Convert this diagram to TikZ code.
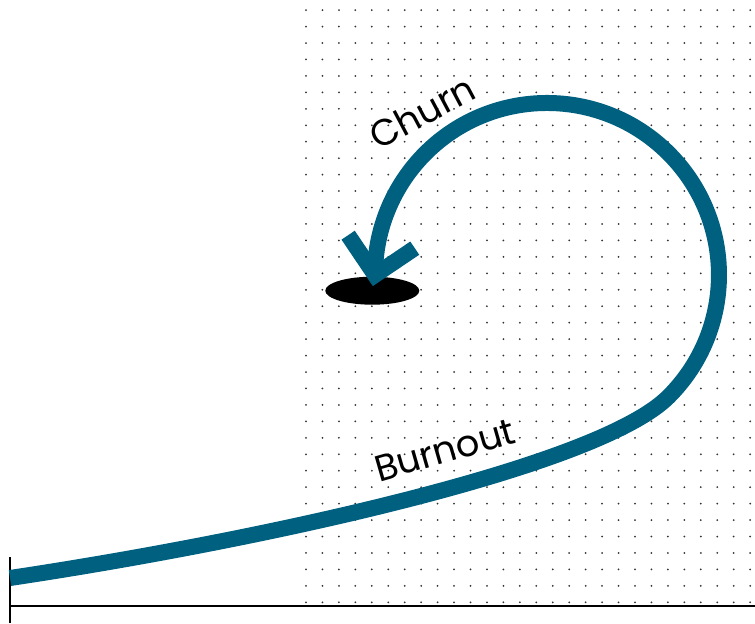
\documentclass[tikz,border=0pt]{standalone}
\usepackage{fontspec}
\setmainfont{Poppins}
\usetikzlibrary{shapes.geometric}
\definecolor{flowblue}{RGB}{0,96,128}
\tikzset{
    flow/.style={line width=0.32cm, color=flowblue, line cap=butt},
    lbl/.style={font=\fontsize{21}{25}\selectfont, inner sep=0pt}
}
\begin{document}
\begin{tikzpicture}
    \useasboundingbox (0,0) rectangle (15.1,12.46);
    % dot grid
    \foreach \i in {0,...,27}
        \foreach \j in {0,...,36}
            \fill[black!80] (6.12+\i*0.329, 0.414+\j*0.329) circle (0.02);
    % axes
    \draw[line width=1.1pt] (0.2,0.346)--(15.1,0.346);
    \draw[line width=1.1pt] (0.2,0)--(0.2,1.326);
    \node[ellipse, fill=black, minimum width=1.88cm, minimum height=0.56cm, inner sep=0pt] (hole) at (7.446,6.646) {};
    \coordinate (start) at (0.2,0.9);
    \draw[flow] (start) .. controls (5.2,1.65) and (11.958,3.114) .. (13.372,4.528)
        arc[start angle=-45, end angle=180, radius=3.44] coordinate (tip);
    \draw[flow, line join=miter] ([shift={(124:0.96)}]tip) -- (tip) -- ([shift={(34:0.96)}]tip);
    \node[lbl, rotate=28] (churn) at (8.44,10.22) {Churn};
    \node[lbl, rotate=16] (burnout) at (8.9,3.46) {Burnout};
\end{tikzpicture}
\end{document}
